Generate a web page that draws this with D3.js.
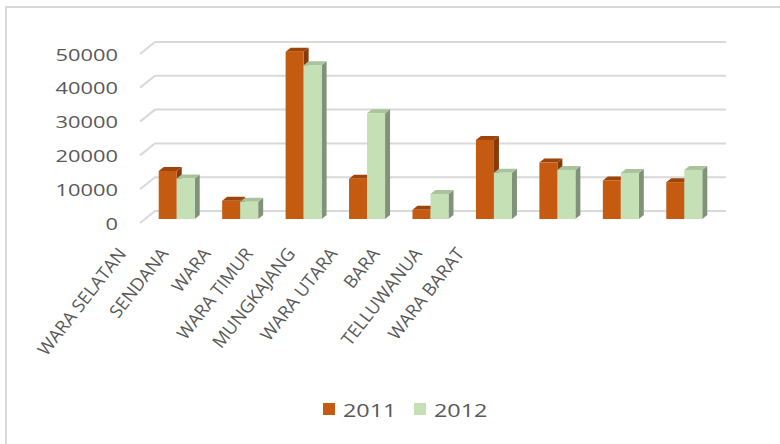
<!DOCTYPE html>
<html>
<head>
<meta charset="utf-8">
<script src="https://cdn.jsdelivr.net/npm/d3@7"></script>
<style>
  body { margin: 0; background: #fff; }
  svg { display: block; font-family: 'Open Sans', sans-serif; }
</style>
</head>
<body>
<svg></svg>
<script>
const w = 780;
const h = 444;

const categories = ['WARA SELATAN', 'SENDANA', 'WARA', 'WARA TIMUR', 'MUNGKAJANG', 'WARA UTARA', 'BARA', 'TELLUWANUA', 'WARA BARAT'];
const series = ['2011', '2012'];
const values2011 = [14200, 5400, 49500, 11900, 2700, 23400, 16700, 11400, 10900];
const values2012 = [12000, 5100, 45500, 31300, 7400, 13700, 14500, 13600, 14500];
const yTicks = [0, 10000, 20000, 30000, 40000, 50000];

const colors = {
	'2011': { front: '#C55A11', top: '#9E450B', side: '#843C0C' },
	'2012': { front: '#C5E0B4', top: '#A9C49C', side: '#80937A' },
};

// depth of the 3d floor (front -> back wall)
const depth = { dx: 15, dy: -12 };
const textColor = '#595959';

let canvas = d3.select('svg').attr('width', w).attr('height', h);

// frame of the chart area
canvas.append('path')
	.attr('d', `M6,${h} L6,7 L${w},7`)
	.attr('fill', 'none')
	.attr('stroke', '#D9D9D9')
	.attr('stroke-width', 2);

const xScale = d3.scaleBand().domain(categories).range([140, 711]);
const groupW = 36;
const xSub = d3.scaleBand().domain(series).range([0, groupW]);
const yScale = d3.scaleLinear().domain([0, 50000]).range([223, 54]);

// gridlines: short slanted floor edge then along the back wall
canvas.append('g')
	.selectAll('path')
	.data(yTicks)
	.enter()
	.append('path')
	.attr('d', (d) => {
		const y0 = yScale(d);
		return `M140,${y0} L${140 + depth.dx},${y0 + depth.dy} L${711 + depth.dx},${y0 + depth.dy}`;
	})
	.attr('fill', 'none')
	.attr('stroke', '#D9D9D9')
	.attr('stroke-width', 2);

// y axis labels (stretched a bit like the original)
const stretch = 1.3;
const yAxis = d3.axisLeft(yScale).tickValues(yTicks).tickSize(0).tickPadding(0).tickFormat(d3.format('d'));
const yg = canvas.append('g').attr('transform', 'translate(140,0)').call(yAxis);
yg.select('.domain').remove();
yg.selectAll('text')
	.attr('x', -22 / stretch)
	.attr('dy', '0.36em')
	.attr('transform', `scale(${stretch},1)`)
	.attr('fill', textColor)
	.style('font-family', "'Open Sans', sans-serif")
	.style('font-size', '16.8px');

// bars
const bars = [];
categories.forEach((c, i) => {
	bars.push({ cat: c, s: '2011', v: values2011[i] });
	bars.push({ cat: c, s: '2012', v: values2012[i] });
});

const pad = (xScale.bandwidth() - groupW) / 2;
const f = { dx: depth.dx / 3, dy: depth.dy / 3 };
const b = { dx: (depth.dx * 2) / 3, dy: (depth.dy * 2) / 3 };
const bw = xSub.bandwidth();

const barG = canvas.append('g')
	.selectAll('g')
	.data(bars)
	.enter()
	.append('g');

barG.append('path')
	.attr('d', (d) => {
		const x0 = xScale(d.cat) + pad + xSub(d.s);
		const yt = yScale(d.v), yb = yScale(0);
		return `M${x0 + f.dx + bw},${yt + f.dy} L${x0 + b.dx + bw},${yt + b.dy} L${x0 + b.dx + bw},${yb + b.dy} L${x0 + f.dx + bw},${yb + f.dy}Z`;
	})
	.attr('fill', (d) => colors[d.s].side);

barG.append('path')
	.attr('d', (d) => {
		const x0 = xScale(d.cat) + pad + xSub(d.s);
		const yt = yScale(d.v);
		return `M${x0 + f.dx},${yt + f.dy} L${x0 + f.dx + bw},${yt + f.dy} L${x0 + b.dx + bw},${yt + b.dy} L${x0 + b.dx},${yt + b.dy}Z`;
	})
	.attr('fill', (d) => colors[d.s].top);

barG.append('rect')
	.attr('x', (d) => xScale(d.cat) + pad + xSub(d.s) + f.dx)
	.attr('y', (d) => yScale(d.v) + f.dy)
	.attr('width', bw)
	.attr('height', (d) => yScale(0) - yScale(d.v))
	.attr('fill', (d) => colors[d.s].front);

// category labels
const labelX = d3.scalePoint().domain(categories).range([127, 465]);
canvas.append('g')
	.selectAll('text')
	.data(categories)
	.enter()
	.append('text')
	.attr('transform', (d) => `translate(${labelX(d)},254) rotate(-52)`)
	.attr('text-anchor', 'end')
	.attr('fill', textColor)
	.attr('font-size', '18px')
	.text((d) => d);

// legend
const legendX = d3.scalePoint().domain(series).range([323, 414]);
const lg = canvas.append('g')
	.selectAll('g')
	.data(series)
	.enter()
	.append('g')
	.attr('transform', (d) => `translate(${legendX(d)},403)`);
lg.append('rect')
	.attr('width', 12)
	.attr('height', 12)
	.attr('fill', (d) => colors[d].front);
lg.append('text')
	.attr('x', 20 / 1.3)
	.attr('y', 13.5)
	.attr('transform', 'scale(1.3,1)')
	.attr('fill', textColor)
	.attr('font-size', '18px')
	.text((d) => d);
</script>
</body>
</html>
